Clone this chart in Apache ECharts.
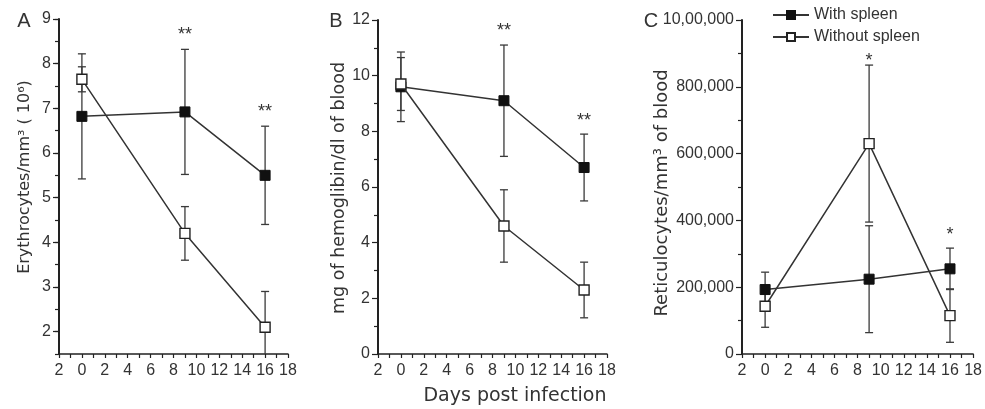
<!DOCTYPE html>
<html><head><meta charset="utf-8">
<script src="https://cdn.jsdelivr.net/npm/echarts@6/dist/echarts.min.js"></script>
<style>html,body{margin:0;padding:0;background:#fff}#c{width:985px;height:409px}</style>
</head><body><div id="c"></div>
<script>
// ---- data ----
const days = [0, 9, 16];
const seriesNames = ['With spleen', 'Without spleen'];
// Panel A: Erythrocytes (x10^6 / mm3)
const withA = [6.82, 6.92, 5.5];
const withAErr = [1.4, 1.4, 1.1];
const withoutA = [7.65, 4.2, 2.1];
const withoutAErr = [0.28, 0.6, 0.8];
const starsA = [[9, 8.65, '**'], [16, 6.92, '**']];
// Panel B: hemoglobin (mg/dl)
const withB = [9.6, 9.1, 6.7];
const withBErr = [1.25, 2.0, 1.2];
const withoutB = [9.7, 4.6, 2.3];
const withoutBErr = [0.95, 1.3, 1.0];
const starsB = [[9, 11.6, '**'], [16, 8.37, '**']];
// Panel C: reticulocytes / mm3
const withC = [193000, 224000, 255000];
const withCErr = [52000, 160000, 62000];
const withoutC = [143000, 630000, 115000];
const withoutCErr = [63000, 235000, 80000];
const starsC = [[9, 877000, '*'], [16, 357000, '*']];
// tick labels
const aTickValues = [2, 3, 4, 5, 6, 7, 8, 9];
const cTickValues = [0, 200000, 400000, 600000, 800000, 1000000];
const cTickLabels = ['0', '200,000', '400,000', '600,000', '800,000', '10,00,000'];
const xTitle = 'Days post infection';
const yTitles = ['Erythrocytes/mm\u00B3 ( 10\u2076)', 'mg of hemoglibin/dl of blood', 'Reticulocytes/mm\u00B3 of blood'];
const panelLetters = ['A', 'B', 'C'];

// ---- chart ----
const FONT = 'Liberation Sans, Arial, sans-serif';
const INK = '#222';
const chart = echarts.init(document.getElementById('c'), null, {renderer: 'canvas'});

function pairs(vals) { return days.map((d, i) => [d, vals[i]]); }
function errPairs(vals, errs) { return days.map((d, i) => [d, vals[i], errs[i]]); }

function xAxis(gi) {
  return {
    type: 'value', gridIndex: gi, min: -2, max: 18, interval: 2,
    axisLine: {onZero: false, lineStyle: {color: INK, width: 1.5}},
    axisTick: {length: 4, lineStyle: {color: INK, width: 1.2}},
    minorTick: {show: true, splitNumber: 2, length: 4, lineStyle: {color: INK, width: 1.2}},
    axisLabel: {formatter: v => String(Math.abs(v)), color: '#333', fontSize: 16, fontFamily: FONT, margin: 9},
    splitLine: {show: false}, minorSplitLine: {show: false}
  };
}
function yBase(gi) {
  return {
    type: 'value', gridIndex: gi,
    axisLine: {show: true, onZero: false, lineStyle: {color: INK, width: 2}},
    axisTick: {show: true, length: 6, lineStyle: {color: INK, width: 1.2}},
    minorTick: {show: true, splitNumber: 2, length: 4, lineStyle: {color: INK, width: 1.2}},
    axisLabel: {color: '#333', fontSize: 16, fontFamily: FONT, margin: 8},
    splitLine: {show: false}, minorSplitLine: {show: false}
  };
}

const yA = Object.assign(yBase(0), {min: 1.5, max: 9, interval: 0.5,
  minorTick: {show: false},
  axisTick: {show: true, length: 6, customValues: aTickValues, lineStyle: {color: INK, width: 1.2}},
  axisLabel: {color: '#333', fontSize: 16, fontFamily: FONT, margin: 8, customValues: aTickValues}});
const yAaux = {type: 'value', gridIndex: 0, min: 1.5, max: 9, interval: 0.5, position: 'left',
  axisLine: {show: false, onZero: false}, axisTick: {show: true, length: 4, lineStyle: {color: INK, width: 1.2}},
  axisLabel: {show: false}, splitLine: {show: false}};
const yB = Object.assign(yBase(1), {min: 0, max: 12, interval: 2});
const yC = Object.assign(yBase(2), {min: 0, max: 1000000, interval: 200000});
yC.axisLabel.formatter = v => { const i = cTickValues.indexOf(v); return i >= 0 ? cTickLabels[i] : ''; };

function errRender(params, api) {
  const x = api.value(0), y = api.value(1), e = api.value(2);
  const cs = params.coordSys;
  const pT = api.coord([x, y + e]);
  const pB = api.coord([x, y - e]);
  const top = Math.max(pT[1], cs.y), bot = Math.min(pB[1], cs.y + cs.height);
  const st = {stroke: '#3a3a3a', lineWidth: 1.3};
  const ch = [{type: 'line', shape: {x1: pT[0], y1: top, x2: pT[0], y2: bot}, style: st}];
  const hw = 4;
  if (pT[1] >= cs.y) ch.push({type: 'line', shape: {x1: pT[0] - hw, y1: pT[1], x2: pT[0] + hw, y2: pT[1]}, style: st});
  if (pB[1] <= cs.y + cs.height) ch.push({type: 'line', shape: {x1: pB[0] - hw, y1: pB[1], x2: pB[0] + hw, y2: pB[1]}, style: st});
  return {type: 'group', children: ch};
}
function starRender(params, api) {
  const p = api.coord([api.value(0), api.value(1)]);
  const txt = starSets[params.seriesIndex - starStart][params.dataIndex][2];
  return {type: 'text', x: p[0], y: p[1],
    style: {text: txt, align: 'center', verticalAlign: 'middle', textAlign: 'center', textVerticalAlign: 'middle',
      font: '18px ' + FONT, fill: '#333'}};
}

const panels = [
  {w: withA, we: withAErr, wo: withoutA, woe: withoutAErr, y: 0},
  {w: withB, we: withBErr, wo: withoutB, woe: withoutBErr, y: 2},
  {w: withC, we: withCErr, wo: withoutC, woe: withoutCErr, y: 3}
];
const starSets = [starsA, starsB, starsC];
const series = [];
panels.forEach((p, gi) => {
  [[p.w, p.we], [p.wo, p.woe]].forEach(([v, e]) => {
    series.push({type: 'custom', xAxisIndex: gi, yAxisIndex: p.y, renderItem: errRender,
      data: errPairs(v, e), z: 1, silent: true, encode: {x: 0, y: 1}});
  });
  series.push({type: 'line', name: seriesNames[0], xAxisIndex: gi, yAxisIndex: p.y, data: pairs(p.w),
    symbol: 'rect', symbolSize: 10, showAllSymbol: true, z: 3,
    lineStyle: {color: '#333', width: 1.5}, itemStyle: {color: '#111', borderColor: '#111', borderWidth: 1}});
  series.push({type: 'line', name: seriesNames[1], xAxisIndex: gi, yAxisIndex: p.y, data: pairs(p.wo),
    symbol: 'rect', symbolSize: 10, showAllSymbol: true, z: 4,
    lineStyle: {color: '#333', width: 1.5}, itemStyle: {color: '#fff', borderColor: '#222', borderWidth: 1.4}});
});
const starStart = series.length;
starSets.forEach((s, gi) => {
  series.push({type: 'custom', xAxisIndex: gi, yAxisIndex: panels[gi].y, renderItem: starRender,
    data: s.map(r => [r[0], r[1]]), z: 5, silent: true});
});

const titleFont = 'DejaVu Sans, sans-serif';
const graphic = [
  {type: 'text', x: 24, y: 21, style: {text: panelLetters[0], font: '20px ' + FONT, fill: '#333', align: 'center', verticalAlign: 'middle'}},
  {type: 'text', x: 336, y: 21, style: {text: panelLetters[1], font: '20px ' + FONT, fill: '#333', align: 'center', verticalAlign: 'middle'}},
  {type: 'text', x: 651, y: 21, style: {text: panelLetters[2], font: '20px ' + FONT, fill: '#333', align: 'center', verticalAlign: 'middle'}},
  {type: 'text', x: 25, y: 177, rotation: Math.PI / 2, style: {text: yTitles[0], font: '16px ' + titleFont, fill: '#333', align: 'center', verticalAlign: 'middle'}},
  {type: 'text', x: 339, y: 188, rotation: Math.PI / 2, style: {text: yTitles[1], font: '17.5px ' + titleFont, fill: '#333', align: 'center', verticalAlign: 'middle'}},
  {type: 'text', x: 662, y: 193, rotation: Math.PI / 2, style: {text: yTitles[2], font: '18px ' + titleFont, fill: '#333', align: 'center', verticalAlign: 'middle'}},
  {type: 'text', x: 515, y: 396, style: {text: xTitle, font: '19px ' + titleFont, fill: '#333', align: 'center', verticalAlign: 'middle'}}
];

chart.setOption({
  animation: false,
  backgroundColor: '#fff',
  grid: [
    {left: 59, top: 19, width: 229, height: 335},
    {left: 378, top: 20, width: 229, height: 334},
    {left: 742, top: 20, width: 232, height: 334}
  ],
  xAxis: [xAxis(0), xAxis(1), xAxis(2)],
  yAxis: [yA, yAaux, yB, yC],
  legend: {data: seriesNames, orient: 'vertical', left: 767, top: 2, itemWidth: 36, itemHeight: 10, itemGap: 6,
    textStyle: {fontSize: 16, fontFamily: FONT, color: '#333'}, selectedMode: false},
  graphic: graphic,
  series: series
});
</script></body></html>
